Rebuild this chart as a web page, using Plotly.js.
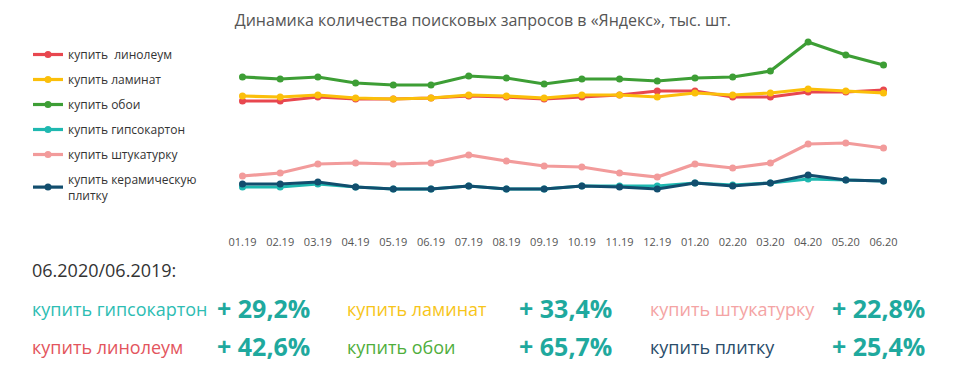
<!DOCTYPE html>
<html><head><meta charset="utf-8">
<script src="https://cdn.plot.ly/plotly-3.0.1.min.js"></script>
<style>body{margin:0;background:#fff}#c{width:960px;height:377px}</style>
</head><body><div id="c"></div>
<script>
var months = ["01.19","02.19","03.19","04.19","05.19","06.19","07.19","08.19","09.19","10.19","11.19","12.19","01.20","02.20","03.20","04.20","05.20","06.20"];
var linoleum = [119,119,123,121,121,122,124,123,121,123,125,129,129,123,123,128,128,130];
var laminat  = [124,123,125,122,121,122,125,124,122,125,125,123,127,125,127,131,129,127];
var oboi     = [143,141,143,137,135,135,144,142,136,141,141,139,142,143,149,178,165,155];
var gipso    = [33,33,36,33,31,31,34,31,31,34,34,34,37,35,37,41,40,39];
var shtuk    = [44,47,56,57,56,57,65,59,54,53,47,43,56,52,57,76,77,72];
var plitka   = [36,36,38,33,31,31,34,31,31,34,33,31,37,34,37,45,40,39];

var seriesNames = ["купить  линолеум","купить ламинат","купить обои","купить гипсокартон","купить штукатурку","купить керамическую<br>плитку"];
var seriesColors = ["#e8474f","#fbbf0a","#3d9e35","#1fb8b0","#f29b9b","#124e6e"];

var summaryLabels = ["купить гипсокартон","купить ламинат","купить штукатурку","купить линолеум","купить обои","купить плитку"];
var summaryValues = ["+ 29,2%","+ 33,4%","+ 22,8%","+ 42,6%","+ 65,7%","+ 25,4%"];
var summaryColors = ["#2dbdb3","#f7c51a","#f4a4a4","#e3555d","#4fae3c","#2a4c6a"];

var seriesData = [linoleum, laminat, oboi, gipso, shtuk, plitka];
var traces = seriesData.map(function(d,i){
  return {x: months, y: d, type:'scatter', mode:'lines+markers', name: seriesNames[i],
    legendgroup: 'g'+i,
    line:{color: seriesColors[i], width:3.2}, marker:{color: seriesColors[i], size:7}};
});

var L=202, T=30, W=722, H=202;
function px(x){return (x-L)/W;}
function py(y){return (T+H-y)/H;}

var ann = [];
ann.push({text:"06.2020/06.2019:", x:px(30), y:py(270), xref:'paper', yref:'paper', xanchor:'left', yanchor:'middle', showarrow:false, font:{size:18, color:'#333'}});
var colX = [30,345,648], pctX = [312,614,927], rowY = [309,347];
for (var i=0;i<6;i++){
  var r = Math.floor(i/3), c = i%3;
  ann.push({text: summaryLabels[i], x:px(colX[c]), y:py(rowY[r]), xref:'paper', yref:'paper', xanchor:'left', yanchor:'middle', showarrow:false, font:{size:18, color: summaryColors[i]}});
  ann.push({text: '<b>'+summaryValues[i]+'</b>', x:px(pctX[c]), y:py(rowY[r]-1), xref:'paper', yref:'paper', xanchor:'right', yanchor:'middle', showarrow:false, font:{size:25, color:'#1fa99e'}});
}

var layout = {
  width:960, height:377,
  margin:{l:L, r:960-L-W, t:T, b:377-T-H},
  paper_bgcolor:'#fff', plot_bgcolor:'#fff',
  font:{family:'"Open Sans", "Noto Sans", sans-serif', color:'#444'},
  title:{text:'Динамика количества поисковых запросов в «Яндекс», тыс. шт.', x:0.503, xanchor:'center', y:0.945, yanchor:'middle', font:{size:16, color:'#555'}},
  xaxis:{type:'category', showgrid:false, zeroline:false, showline:false, ticks:'', ticklabelstandoff:2, tickfont:{size:11, color:'#555'}, fixedrange:true},
  yaxis:{range:[-12,190], visible:false, fixedrange:true},
  showlegend:true,
  legend:{x:px(28), y:py(40), xanchor:'left', yanchor:'top', traceorder:'grouped', tracegroupgap:6, font:{size:12, color:'#333'}, bgcolor:'rgba(0,0,0,0)'},
  annotations: ann
};
Plotly.newPlot('c', traces, layout, {displayModeBar:false, staticPlot:true});
</script>
</body></html>
